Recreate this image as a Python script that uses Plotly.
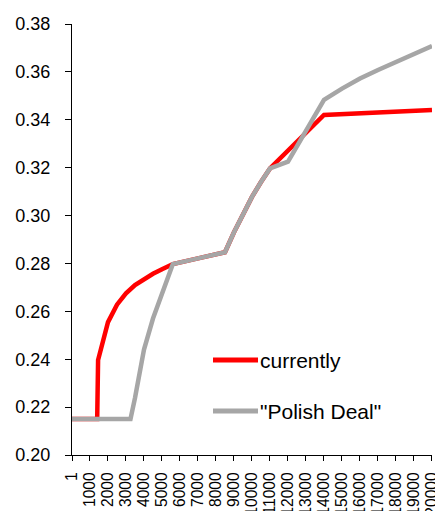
import plotly.graph_objects as go

# Tick labels (x axis categories shown)
x_ticks = [1] + [i * 1000 for i in range(1, 21)]
x_tick_labels = [str(v) for v in x_ticks]

# "currently"
cur_x = [1, 1400, 1450, 1750, 2000, 2500, 3000, 3500, 4000, 4500, 5000, 5600, 7000,
         8500, 9000, 9500, 10000, 10500, 11000, 14000, 20000]
cur_y = [0.215, 0.215, 0.2397, 0.2494, 0.2555, 0.2628, 0.2675, 0.2710, 0.2735, 0.2757,
         0.2776, 0.2797, 0.2821, 0.2847, 0.2930, 0.3008, 0.3078, 0.3140, 0.3197, 0.3420, 0.3441]

# "Polish Deal"
pd_x = [1, 3250, 3500, 4000, 4500, 5000, 5600, 7000, 8500, 9000, 9500, 10000, 10500,
        11000, 12000, 14000, 15000, 16000, 17000, 18000, 19000, 20000]
pd_y = [0.215, 0.215, 0.2238, 0.2440, 0.2570, 0.2675, 0.2797, 0.2821, 0.2847, 0.2930,
        0.3008, 0.3078, 0.3140, 0.3197, 0.3225, 0.3483, 0.3530, 0.3572, 0.3608, 0.3643,
        0.3676, 0.3708]

y_ticks = [0.20 + 0.02 * i for i in range(10)]

series_names = ["currently", '"Polish Deal"']
series_colors = ["#FF0000", "#A6A6A6"]

W, H = 435, 511
L, R, T, B = 72, 3, 24, 56
pw, ph = W - L - R, H - T - B

fig = go.Figure()
fig.add_trace(go.Scatter(x=cur_x, y=cur_y, mode="lines", name=series_names[0],
                         line=dict(color=series_colors[0], width=4.5)))
fig.add_trace(go.Scatter(x=pd_x, y=pd_y, mode="lines", name=series_names[1],
                         line=dict(color=series_colors[1], width=4.5)))

font_family = "Liberation Sans, Arial, sans-serif"

# Manual legend (line sample + label), placed in paper coordinates
legend_py = [360, 411]
shapes, annotations = [], []
for name, color, py in zip(series_names, series_colors, legend_py):
    yp = (H - B - py) / ph
    shapes.append(dict(type="line", xref="paper", yref="paper",
                       x0=(213 - L) / pw, x1=(258 - L) / pw, y0=yp, y1=yp,
                       line=dict(color=color, width=5)))
    annotations.append(dict(xref="paper", yref="paper", x=(258 - L) / pw, y=yp,
                            xanchor="left", yanchor="middle", text=name, showarrow=False,
                            font=dict(size=21, family=font_family, color="black")))

fig.update_layout(
    template="none",
    width=W, height=H,
    margin=dict(l=L, r=R, t=T, b=B, autoexpand=False),
    paper_bgcolor="white", plot_bgcolor="white",
    font=dict(family=font_family, color="black"),
    showlegend=False,
    shapes=shapes, annotations=annotations,
    xaxis=dict(range=[0.5, 20000.5], tickmode="array", tickvals=x_ticks, ticktext=x_tick_labels,
               tickangle=-90, tickfont=dict(size=15.6), showgrid=False, zeroline=False,
               showline=True, linecolor="black", linewidth=1.2, automargin=False,
               ticks="outside", ticklen=5, tickcolor="black", tickwidth=1,
               ticklabelstandoff=5, ticklabeloverflow="allow"),
    yaxis=dict(range=[0.20, 0.38], tickmode="array", tickvals=y_ticks,
               ticktext=[f"{v:.2f}" for v in y_ticks], tickfont=dict(size=18),
               showgrid=False, zeroline=False, showline=True, linecolor="black",
               linewidth=1.2, automargin=False, ticklabelstandoff=11,
               ticks="outside", ticklen=6, tickcolor="black", tickwidth=1),
)

fig.write_html("out.html", config={"displayModeBar": False},
               post_script="document.body.style.margin='0';document.body.style.overflow='hidden';")
